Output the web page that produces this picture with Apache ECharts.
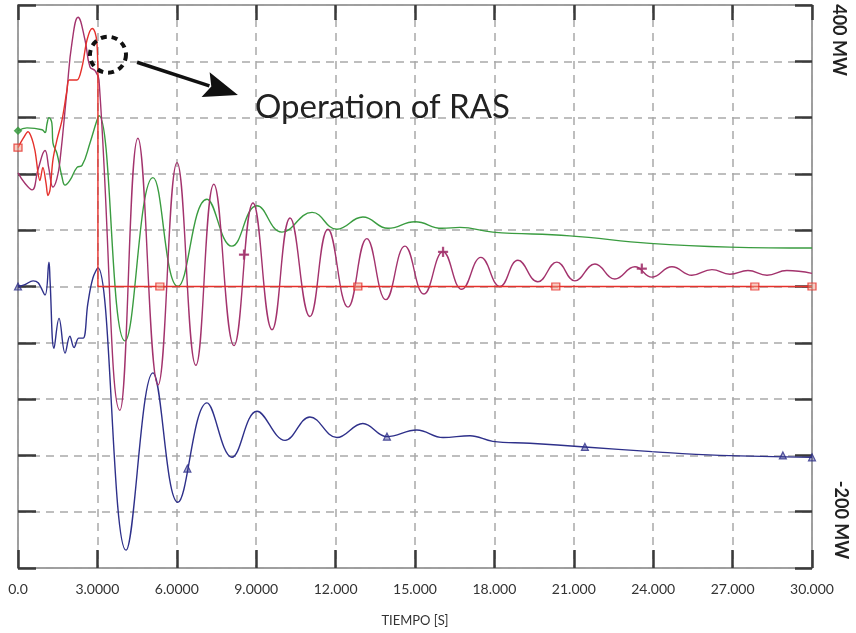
<!DOCTYPE html>
<html><head><meta charset="utf-8">
<script src="https://cdn.jsdelivr.net/npm/echarts/dist/echarts.min.js"></script>
<style>html,body{margin:0;padding:0;background:#fff}#c{width:856px;height:633px}</style>
</head><body><div id="c"></div>
<script>
// ---- data (time [s], power [MW]) ----
const xTickLabels = ['0.0','3.0000','6.0000','9.0000','12.000','15.000','18.000','21.000','24.000','27.000','30.000'];
const rightLabels = ['400 MW', '-200 MW'];
const annotationText = 'Operation of RAS';
const xAxisName = 'TIEMPO [S]';

const redBefore = [[0,248],[0.2,258],[0.38,265],[0.52,258],[0.64,245],[0.83,213],[0.94,227],[1.06,210],[1.13,197],[1.21,203],[1.32,235],[1.47,256],[1.66,277],[1.85,309],[1.93,320],[2.1,320],[2.23,320],[2.42,334],[2.61,363],[2.80,375],[2.91,371],[2.98,360],[3.02,330]];
const redAfter = [[3.02,330],[3.02,100],[30,100]];

const magenta = [[0,221],[0.26,210],[0.53,203],[0.76,225],[1.02,245],[1.17,225],[1.32,206],[1.47,215],[1.59,235],[1.85,309],[2.04,360],[2.27,387],[2.53,363],[2.72,334],[2.91,330],[3.06,320],[3.85,-32],[4.53,258],[5.29,-5],[6.01,232],[6.72,16],[7.40,209],[8.16,37],[8.88,189],[9.60,54],[10.28,173],[11.03,68],[11.71,161],[12.47,78],[13.18,151],[13.90,86],[14.62,143],[15.34,92],[16.06,137],[16.77,97],[17.49,131],[18.21,100],[18.89,128],[19.64,105],[20.36,126],[21.04,106],[21.80,124],[22.55,108],[23.31,121],[23.95,110],[24.71,121],[25.46,112],[26.22,118],[26.90,113],[27.58,117],[28.30,112],[29.05,117],[30,114]];

const green = [[0,266],[0.34,269],[0.91,267],[1.02,264],[1.10,274],[1.17,280],[1.28,274],[1.32,253],[1.47,242],[1.66,217],[1.78,208],[1.96,213],[2.23,227],[2.42,229],[2.72,253],[2.98,277],[3.06,282],[4.04,42],[5.10,216],[6.04,100],[7.14,193],[8.08,143],[9.03,186],[9.97,158],[11.11,179],[12.05,161],[13.03,174],[13.98,162],[15.00,169],[16.02,162],[16.70,163],[17.94,158],[20.85,154],[23.88,146],[26.90,142],[30,141]];

const blue = [[0,100],[0.26,102],[0.57,106],[0.76,104],[1.02,91],[1.17,126],[1.21,107],[1.36,34],[1.55,66],[1.78,29],[1.96,47],[2.12,35],[2.30,45],[2.46,45],[2.64,82],[2.83,109],[3.02,120],[4.08,-181],[5.10,8],[6.04,-130],[7.14,-24],[8.08,-82],[9.03,-33],[10.09,-64],[11.03,-39],[12.05,-61],[13.03,-46],[13.94,-60],[15.07,-53],[16.06,-61],[17.08,-59],[17.94,-65],[19.34,-67],[21.42,-71],[23.95,-76],[26.52,-80],[30,-82]];

const redMarks = [[0,248],[5.36,100],[12.84,100],[20.32,100],[27.84,100],[30,100]];
const magentaMarks = [[8.54,134],[16.06,137],[23.57,119]];
const greenMarks = [[0,266]];
const blueMarks = [[0,100],[6.40,-94],[13.94,-60],[21.42,-71],[28.90,-80],[30,-82]];

// annotation anchors (data coords)
const circleCenter = [3.40, 347];
const arrowFrom = [4.50, 339];
const arrowTo = [8.31, 304];
const textAnchor = [8.95, 291];

const C = {red:'#e5312b', mag:'#a3336d', green:'#3a9c40', blue:'#2e308a'};
const FONT = 'Lato, "Open Sans", sans-serif';

const chart = echarts.init(document.getElementById('c'), null, {renderer:'canvas'});

function lineSeries(name, data, color, smooth){
  return {name, type:'line', data, smooth, showSymbol:false, symbol:'none',
    lineStyle:{color, width:1.4}, itemStyle:{color}, z:3, animation:false};
}
function markSeries(data, symbol, size, color, fill){
  return {type:'scatter', data, symbol, symbolSize:size, z:5, animation:false,
    itemStyle:{color:fill, borderColor:color, borderWidth:1.2}};
}

const gridLine = {show:true, lineStyle:{color:'#a9a9a9', width:1.5, type:[8,6]}};
const tick = (len)=>({show:true, inside:true, length:len, lineStyle:{color:'#3a3a3a', width:2.5}});
const axLine = {show:true, onZero:false, lineStyle:{color:'#9a9a9a', width:1.5}};

chart.setOption({
  backgroundColor:'#fff',
  animation:false,
  grid:{left:18, right:44, top:5, bottom:65, show:true, borderColor:'#9a9a9a', borderWidth:1.5, containLabel:false, outerBoundsMode:'none'},
  xAxis:[
    {type:'value', min:0, max:30, interval:3, position:'bottom',
     axisLine:axLine, axisTick:tick(18), splitLine:gridLine,
     axisLabel:{show:true, margin:14, color:'#333', fontSize:14, fontFamily:FONT,
       formatter:(v)=>xTickLabels[Math.round(v/3)], showMinLabel:true, showMaxLabel:true},
     name:xAxisName, nameLocation:'middle', nameGap:46,
     nameTextStyle:{color:'#333', fontSize:13, fontFamily:FONT}},
    {type:'value', min:0, max:30, interval:3, position:'top',
     axisLine:axLine, axisTick:tick(15), splitLine:{show:false}, axisLabel:{show:false}}
  ],
  yAxis:[
    {type:'value', min:-200, max:400, interval:60, position:'left',
     axisLine:axLine, axisTick:tick(18), splitLine:gridLine, axisLabel:{show:false}},
    {type:'value', min:-200, max:400, interval:60, position:'right',
     axisLine:axLine, axisTick:tick(17), splitLine:{show:false}, axisLabel:{show:false}}
  ],
  series:[
    lineSeries('green', green, C.green, 0.45),
    lineSeries('blue', blue, C.blue, 0.4),
    lineSeries('magenta', magenta, C.mag, 0.45),
    lineSeries('redBefore', redBefore, C.red, 0.35),
    lineSeries('redAfter', redAfter, C.red, false),
    markSeries(redMarks, 'rect', [8,7], C.red, 'rgba(240,150,130,0.6)'),
    markSeries(magentaMarks, 'path://M4.4,0H5.6V4.4H10V5.6H5.6V10H4.4V5.6H0V4.4H4.4Z', 9, C.mag, C.mag),
    markSeries(greenMarks, 'diamond', 7, C.green, C.green),
    markSeries(blueMarks, 'triangle', 7, C.blue, 'rgba(46,48,138,0.5)')
  ]
});

// ---- annotations ----
const px = (p)=>chart.convertToPixel({xAxisIndex:0, yAxisIndex:0}, p);
const cc = px(circleCenter), a0 = px(arrowFrom), a1 = px(arrowTo), tp = px(textAnchor);
const dx = a1[0]-a0[0], dy = a1[1]-a0[1], L = Math.hypot(dx,dy);
const ux = dx/L, uy = dy/L, nx = -uy, ny = ux;
const headLen = 34, headHalf = 13;
const base = [a1[0]-ux*headLen, a1[1]-uy*headLen];
const gTop = chart.convertToPixel({yAxisIndex:0}, 400);
const gBot = chart.convertToPixel({yAxisIndex:0}, -200);
const gRight = chart.convertToPixel({xAxisIndex:0}, 30);

chart.setOption({graphic:[
  {type:'circle', shape:{cx:cc[0], cy:cc[1], r:18}, z:10,
   style:{fill:'none', stroke:'#111', lineWidth:4, lineDash:[6,5]}},
  {type:'line', shape:{x1:a0[0], y1:a0[1], x2:base[0]+ux*4, y2:base[1]+uy*4}, z:10,
   style:{stroke:'#111', lineWidth:3.5}},
  {type:'polygon', z:10, shape:{points:[[a1[0],a1[1]],[base[0]+nx*headHalf, base[1]+ny*headHalf],[base[0]+ux*6, base[1]+uy*6],[base[0]-nx*headHalf, base[1]-ny*headHalf]]},
   style:{fill:'#111'}},
  {type:'text', x:tp[0], y:tp[1], z:10,
   style:{text:annotationText, fill:'#222', font:'33px '+FONT, textAlign:'left', textVerticalAlign:'middle'}},
  {type:'text', x:gRight+27, y:gTop+35, rotation:-Math.PI/2, z:10,
   style:{text:rightLabels[0], fill:'#222', font:'bold 18px '+FONT, textAlign:'center', textVerticalAlign:'middle'}},
  {type:'text', x:gRight+29, y:gBot-48, rotation:-Math.PI/2, z:10,
   style:{text:rightLabels[1], fill:'#222', font:'bold 18px '+FONT, textAlign:'center', textVerticalAlign:'middle'}}
]});
</script></body></html>
